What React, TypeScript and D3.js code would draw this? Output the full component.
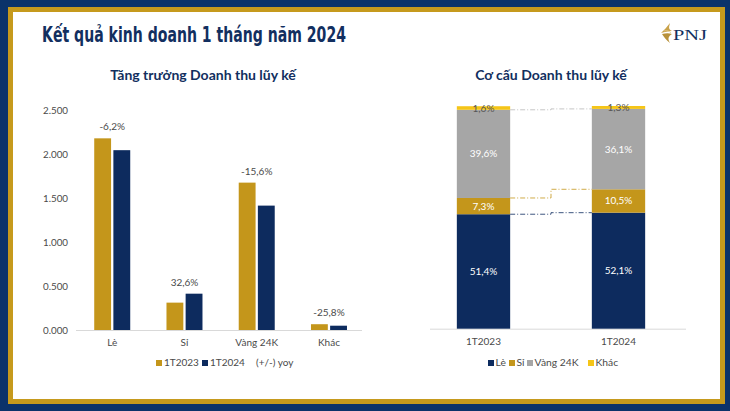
import React from "react";
import * as d3 from "d3";

const categories = ["Lè", "Sỉ", "Vàng 24K", "Khác"];
const periods = ["1T2023", "1T2024"];
const revenue2023 = [2185, 312, 1680, 66];
const revenue2024 = [2050, 414, 1418, 49];
const yoyLabels = ["-6,2%", "32,6%", "-15,6%", "-25,8%"];
const yTicks = [0, 500, 1000, 1500, 2000, 2500];
const yTickLabels = ["0.000", "0.500", "1.000", "1.500", "2.000", "2.500"];

const mixKeys = ["Lè", "Sỉ", "Vàng 24K", "Khác"];
const mix2023 = [51.4, 7.3, 39.6, 1.6];
const mix2024 = [52.1, 10.5, 36.1, 1.3];
const mixLabels2023 = ["51,4%", "7,3%", "39,6%", "1,6%"];
const mixLabels2024 = ["52,1%", "10,5%", "36,1%", "1,3%"];

const NAVY = "#0d2b5e";
const GOLD = "#c4961b";
const GRAY = "#a6a6a6";
const YELLOW = "#f5c518";
const TITLE = "#122f60";
const TXT = "#4a4a4a";
const FONT = "Lato, 'Open Sans', sans-serif";

export default function App() {
  const W = 730, H = 411;

  const x = d3.scaleBand<string>().domain(categories).range([76.1, 365.1]);
  const xInner = d3.scaleBand<string>().domain(periods).range([0, 36]).paddingInner(0.12);
  const y = d3.scaleLinear().domain([0, 2500]).range([330, 110.7]);
  const seriesL = [revenue2023, revenue2024];
  const seriesColors = [GOLD, NAVY];

  const xr = d3.scaleBand<string>().domain(periods).range([416, 686]).paddingInner(0.605).paddingOuter(0.3025);
  const yr = d3.scaleLinear().domain([0, 100]).range([328.7, 106]);
  const mixRows = [mix2023, mix2024].map((vals, i) => {
    const o: any = { period: periods[i] };
    mixKeys.forEach((k, j) => (o[k] = vals[j]));
    return o;
  });
  const stacked = d3.stack<any>().keys(mixKeys)(mixRows);
  const mixColors = [NAVY, GOLD, GRAY, YELLOW];
  const mixLabels = [mixLabels2023, mixLabels2024];
  const connColors = [NAVY, GOLD, "#b8b8b8"];

  const bw = xr.bandwidth();
  const x0r = (xr(periods[0]) as number) + bw;
  const x1l = xr(periods[1]) as number;

  return (
    <svg width={W} height={H} style={{ position: "absolute", left: 0, top: 0 }}>
      <rect x={0} y={0} width={W} height={H} fill="#0b336a" />
      <rect x={8} y={7} width={717} height={397} fill="#c69a1d" />
      <rect x={13} y={12} width={707} height={387} fill="#ffffff" />

      <text x={42} y={42} fontFamily="'Liberation Sans Narrow', 'DejaVu Sans Condensed', sans-serif" fontSize={20.5} fontWeight={600} fill={TITLE} textLength={304} lengthAdjust="spacingAndGlyphs">
        Kết quả kinh doanh 1 tháng năm 2024
      </text>

      <g>
        <path d="M661,33 C664,30 667,27 670,23 C669,27 668,29 672,31 C668,31 665,32 661,33 Z" fill="#c9a24a" />
        <path d="M662,34 C666,33 669,33 672,34 C669,36 667,38 670,43 C666,40 664,37 662,34 Z" fill="#b8913a" />
        <path d="M664,31 C667,30 669,31 671,33" stroke="#e3c98a" strokeWidth={0.8} fill="none" />
        <text x={673} y={40} fontFamily="'Liberation Serif', 'DejaVu Serif', serif" fontSize={15} fill={TITLE} textLength={34} lengthAdjust="spacingAndGlyphs">PNJ</text>
      </g>

      <text x={203} y={80} textAnchor="middle" fontFamily={FONT} fontWeight={700} fontSize={14} fill={TITLE}>Tăng trưởng Doanh thu lũy kế</text>
      <text x={551} y={80} textAnchor="middle" fontFamily={FONT} fontWeight={700} fontSize={14} fill={TITLE}>Cơ cấu Doanh thu lũy kế</text>

      <line x1={76} x2={362} y1={330.5} y2={330.5} stroke="#d9d9d9" strokeWidth={1} />
      {yTicks.map((t, i) => (
        <text key={t} x={68} y={y(t) + 3.5} textAnchor="end" fontFamily={FONT} fontSize={9.8} fill={TXT}>{yTickLabels[i]}</text>
      ))}
      {categories.map((c, ci) => {
        const bx = (x(c) as number) + x.bandwidth() / 2 - 18;
        const top = Math.min(y(revenue2023[ci]), y(revenue2024[ci]));
        return (
          <g key={c}>
            {seriesL.map((s, si) => (
              <rect key={si} x={bx + (xInner(periods[si]) as number)} y={y(s[ci])} width={xInner.bandwidth()} height={y(0) - y(s[ci])} fill={seriesColors[si]} />
            ))}
            <text x={(x(c) as number) + x.bandwidth() / 2} y={top - 8} textAnchor="middle" fontFamily={FONT} fontSize={10} fill={TXT}>{yoyLabels[ci]}</text>
            <text x={(x(c) as number) + x.bandwidth() / 2} y={346} textAnchor="middle" fontFamily={FONT} fontSize={10} fill={TXT}>{c}</text>
          </g>
        );
      })}
      <rect x={156} y={360} width={6} height={6} fill={GOLD} />
      <text x={164} y={366} fontFamily={FONT} fontSize={10} fill={TXT}>1T2023</text>
      <rect x={202} y={360} width={6} height={6} fill={NAVY} />
      <text x={210} y={366} fontFamily={FONT} fontSize={10} fill={TXT}>1T2024</text>
      <text x={256} y={366} fontFamily={FONT} fontSize={10} fill={TXT}>(+/-) yoy</text>

      <line x1={430} x2={686} y1={329.2} y2={329.2} stroke="#d9d9d9" strokeWidth={1} />
      {stacked.map((layer, li) => (
        <g key={layer.key}>
          {layer.map((d, pi) => (
            <rect key={pi} x={xr(periods[pi]) as number} y={yr(d[1])} width={bw} height={yr(d[0]) - yr(d[1])} fill={mixColors[li]} />
          ))}
        </g>
      ))}
      {[0, 1, 2].map((li) => {
        const ya = yr(stacked[li][0][1]);
        const yb = yr(stacked[li][1][1]);
        const xm = (x0r + x1l) / 2;
        return (
          <path key={li} d={`M${x0r},${ya} H${xm} V${yb} H${x1l}`} fill="none" stroke={connColors[li]} strokeWidth={0.8} strokeDasharray="5,2,1,2" />
        );
      })}
      {stacked.map((layer, li) => (
        <g key={"l" + layer.key}>
          {layer.map((d, pi) => (
            <text key={pi} x={(xr(periods[pi]) as number) + bw / 2} y={(yr(d[0]) + yr(d[1])) / 2 + 3.5} textAnchor="middle" fontFamily={FONT} fontSize={10} fill={li === 3 ? "#555555" : "#ffffff"}>
              {mixLabels[pi][li]}
            </text>
          ))}
        </g>
      ))}
      {periods.map((p) => (
        <text key={p} x={(xr(p) as number) + bw / 2} y={344.5} textAnchor="middle" fontFamily={FONT} fontSize={10} fill={TXT}>{p}</text>
      ))}
      {[
        { k: "Lè", x: 488 },
        { k: "Sỉ", x: 509 },
        { k: "Vàng 24K", x: 527 },
        { k: "Khác", x: 588 },
      ].map((it, i) => (
        <g key={it.k}>
          <rect x={it.x} y={360} width={6} height={6} fill={mixColors[i]} />
          <text x={it.x + 7.5} y={366} fontFamily={FONT} fontSize={10.3} fill={TXT}>{it.k}</text>
        </g>
      ))}
    </svg>
  );
}
